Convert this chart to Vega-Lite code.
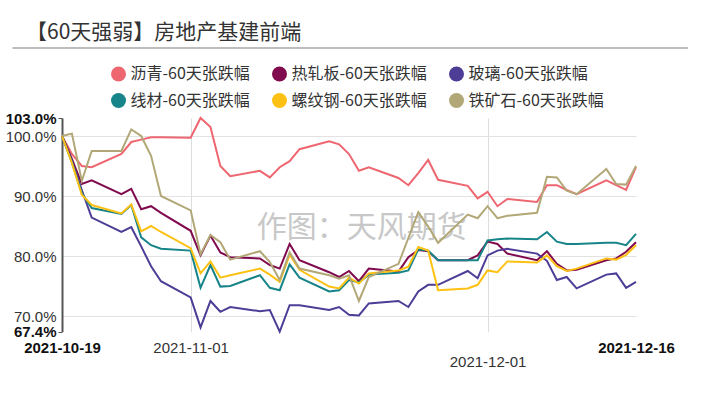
{
  "$schema": "https://vega.github.io/schema/vega-lite/v6.json",
  "autosize": {"type": "none"},
  "padding": {"left": 62, "top": 118, "right": 67, "bottom": 81.4},
  "width": 574,
  "height": 213.6,
  "background": "white",
  "title": {"text": "【60天强弱】房地产基建前端", "anchor": "start", "frame": "group", "font": "Noto Sans CJK SC", "fontSize": 21, "fontWeight": "normal", "color": "#333333", "dx": -36, "dy": 0},
  "config": {"view": {"stroke": null}, "font": "Liberation Sans"},
  "layer": [
    {
      "data": {"values": [{}]},
      "mark": {"type": "text", "text": "作图：天风期货", "font": "Noto Sans CJK SC", "fontSize": 30, "color": "#c8c8c8", "align": "center", "baseline": "middle"},
      "encoding": {
        "x": {"datum": {"year": 2021, "month": 11, "date": 18, "hours": 7, "utc": true}, "type": "temporal"},
        "y": {"datum": 84.7, "type": "quantitative"}
      }
    },
    {
      "data": {"values": [{}]},
      "mark": {"type": "rule", "color": "#bdbdbd", "strokeWidth": 2, "clip": false},
      "encoding": {
        "x": {"datum": {"year": 2021, "month": 10, "date": 14, "utc": true}, "type": "temporal"},
        "x2": {"datum": {"year": 2021, "month": 12, "date": 21, "hours": 6, "utc": true}},
        "y": {"datum": 114.67, "type": "quantitative"}
      }
    },
    {
      "data": {"values": [
        {"date":"2021-10-19","series":"沥青-60天张跌幅","value":100},
        {"date":"2021-10-20","series":"沥青-60天张跌幅","value":97.0},
        {"date":"2021-10-21","series":"沥青-60天张跌幅","value":95.0},
        {"date":"2021-10-22","series":"沥青-60天张跌幅","value":94.8},
        {"date":"2021-10-25","series":"沥青-60天张跌幅","value":97.0},
        {"date":"2021-10-26","series":"沥青-60天张跌幅","value":99.0},
        {"date":"2021-10-27","series":"沥青-60天张跌幅","value":99.4},
        {"date":"2021-10-28","series":"沥青-60天张跌幅","value":99.8},
        {"date":"2021-10-29","series":"沥青-60天张跌幅","value":99.8},
        {"date":"2021-11-01","series":"沥青-60天张跌幅","value":99.7},
        {"date":"2021-11-02","series":"沥青-60天张跌幅","value":103.0},
        {"date":"2021-11-03","series":"沥青-60天张跌幅","value":101.5},
        {"date":"2021-11-04","series":"沥青-60天张跌幅","value":95.0},
        {"date":"2021-11-05","series":"沥青-60天张跌幅","value":93.3},
        {"date":"2021-11-08","series":"沥青-60天张跌幅","value":94.2},
        {"date":"2021-11-09","series":"沥青-60天张跌幅","value":93.1},
        {"date":"2021-11-10","series":"沥青-60天张跌幅","value":94.8},
        {"date":"2021-11-11","series":"沥青-60天张跌幅","value":95.8},
        {"date":"2021-11-12","series":"沥青-60天张跌幅","value":97.8},
        {"date":"2021-11-15","series":"沥青-60天张跌幅","value":99.1},
        {"date":"2021-11-16","series":"沥青-60天张跌幅","value":98.6},
        {"date":"2021-11-17","series":"沥青-60天张跌幅","value":97.0},
        {"date":"2021-11-18","series":"沥青-60天张跌幅","value":94.2},
        {"date":"2021-11-19","series":"沥青-60天张跌幅","value":94.8},
        {"date":"2021-11-22","series":"沥青-60天张跌幅","value":93.0},
        {"date":"2021-11-23","series":"沥青-60天张跌幅","value":91.8},
        {"date":"2021-11-24","series":"沥青-60天张跌幅","value":93.8},
        {"date":"2021-11-25","series":"沥青-60天张跌幅","value":96.0},
        {"date":"2021-11-26","series":"沥青-60天张跌幅","value":92.7},
        {"date":"2021-11-29","series":"沥青-60天张跌幅","value":91.7},
        {"date":"2021-11-30","series":"沥青-60天张跌幅","value":89.6},
        {"date":"2021-12-01","series":"沥青-60天张跌幅","value":90.7},
        {"date":"2021-12-02","series":"沥青-60天张跌幅","value":88.3},
        {"date":"2021-12-03","series":"沥青-60天张跌幅","value":89.5},
        {"date":"2021-12-06","series":"沥青-60天张跌幅","value":89.0},
        {"date":"2021-12-07","series":"沥青-60天张跌幅","value":91.8},
        {"date":"2021-12-08","series":"沥青-60天张跌幅","value":91.8},
        {"date":"2021-12-09","series":"沥青-60天张跌幅","value":91.0},
        {"date":"2021-12-10","series":"沥青-60天张跌幅","value":90.3},
        {"date":"2021-12-13","series":"沥青-60天张跌幅","value":92.6},
        {"date":"2021-12-14","series":"沥青-60天张跌幅","value":91.8},
        {"date":"2021-12-15","series":"沥青-60天张跌幅","value":91.0},
        {"date":"2021-12-16","series":"沥青-60天张跌幅","value":94.8},
        {"date":"2021-10-19","series":"热轧板-60天张跌幅","value":100},
        {"date":"2021-10-20","series":"热轧板-60天张跌幅","value":96.2},
        {"date":"2021-10-21","series":"热轧板-60天张跌幅","value":92.0},
        {"date":"2021-10-22","series":"热轧板-60天张跌幅","value":92.6},
        {"date":"2021-10-25","series":"热轧板-60天张跌幅","value":90.3},
        {"date":"2021-10-26","series":"热轧板-60天张跌幅","value":91.2},
        {"date":"2021-10-27","series":"热轧板-60天张跌幅","value":87.8},
        {"date":"2021-10-28","series":"热轧板-60天张跌幅","value":88.3},
        {"date":"2021-10-29","series":"热轧板-60天张跌幅","value":87.2},
        {"date":"2021-11-01","series":"热轧板-60天张跌幅","value":84.2},
        {"date":"2021-11-02","series":"热轧板-60天张跌幅","value":80.1},
        {"date":"2021-11-03","series":"热轧板-60天张跌幅","value":83.4},
        {"date":"2021-11-04","series":"热轧板-60天张跌幅","value":80.6},
        {"date":"2021-11-05","series":"热轧板-60天张跌幅","value":79.8},
        {"date":"2021-11-08","series":"热轧板-60天张跌幅","value":79.6},
        {"date":"2021-11-09","series":"热轧板-60天张跌幅","value":78.5},
        {"date":"2021-11-10","series":"热轧板-60天张跌幅","value":77.9},
        {"date":"2021-11-11","series":"热轧板-60天张跌幅","value":82.0},
        {"date":"2021-11-12","series":"热轧板-60天张跌幅","value":79.3},
        {"date":"2021-11-15","series":"热轧板-60天张跌幅","value":77.3},
        {"date":"2021-11-16","series":"热轧板-60天张跌幅","value":76.5},
        {"date":"2021-11-17","series":"热轧板-60天张跌幅","value":77.5},
        {"date":"2021-11-18","series":"热轧板-60天张跌幅","value":75.8},
        {"date":"2021-11-19","series":"热轧板-60天张跌幅","value":77.9},
        {"date":"2021-11-22","series":"热轧板-60天张跌幅","value":77.4},
        {"date":"2021-11-23","series":"热轧板-60天张跌幅","value":79.8},
        {"date":"2021-11-24","series":"热轧板-60天张跌幅","value":81.0},
        {"date":"2021-11-25","series":"热轧板-60天张跌幅","value":80.8},
        {"date":"2021-11-26","series":"热轧板-60天张跌幅","value":79.3},
        {"date":"2021-11-29","series":"热轧板-60天张跌幅","value":79.3},
        {"date":"2021-11-30","series":"热轧板-60天张跌幅","value":80.1},
        {"date":"2021-12-01","series":"热轧板-60天张跌幅","value":82.4},
        {"date":"2021-12-02","series":"热轧板-60天张跌幅","value":82.0},
        {"date":"2021-12-03","series":"热轧板-60天张跌幅","value":80.4},
        {"date":"2021-12-06","series":"热轧板-60天张跌幅","value":79.3},
        {"date":"2021-12-07","series":"热轧板-60天张跌幅","value":80.8},
        {"date":"2021-12-08","series":"热轧板-60天张跌幅","value":78.7},
        {"date":"2021-12-09","series":"热轧板-60天张跌幅","value":77.6},
        {"date":"2021-12-10","series":"热轧板-60天张跌幅","value":77.7},
        {"date":"2021-12-13","series":"热轧板-60天张跌幅","value":79.3},
        {"date":"2021-12-14","series":"热轧板-60天张跌幅","value":79.6},
        {"date":"2021-12-15","series":"热轧板-60天张跌幅","value":80.7},
        {"date":"2021-12-16","series":"热轧板-60天张跌幅","value":82.3},
        {"date":"2021-10-19","series":"玻璃-60天张跌幅","value":100},
        {"date":"2021-10-20","series":"玻璃-60天张跌幅","value":95.8},
        {"date":"2021-10-21","series":"玻璃-60天张跌幅","value":91.0},
        {"date":"2021-10-22","series":"玻璃-60天张跌幅","value":86.4},
        {"date":"2021-10-25","series":"玻璃-60天张跌幅","value":84.0},
        {"date":"2021-10-26","series":"玻璃-60天张跌幅","value":84.8},
        {"date":"2021-10-27","series":"玻璃-60天张跌幅","value":81.6},
        {"date":"2021-10-28","series":"玻璃-60天张跌幅","value":78.3},
        {"date":"2021-10-29","series":"玻璃-60天张跌幅","value":75.8},
        {"date":"2021-11-01","series":"玻璃-60天张跌幅","value":73.1},
        {"date":"2021-11-02","series":"玻璃-60天张跌幅","value":68.1},
        {"date":"2021-11-03","series":"玻璃-60天张跌幅","value":72.5},
        {"date":"2021-11-04","series":"玻璃-60天张跌幅","value":70.7},
        {"date":"2021-11-05","series":"玻璃-60天张跌幅","value":71.5},
        {"date":"2021-11-08","series":"玻璃-60天张跌幅","value":70.8},
        {"date":"2021-11-09","series":"玻璃-60天张跌幅","value":71.0},
        {"date":"2021-11-10","series":"玻璃-60天张跌幅","value":67.4},
        {"date":"2021-11-11","series":"玻璃-60天张跌幅","value":71.8},
        {"date":"2021-11-12","series":"玻璃-60天张跌幅","value":71.8},
        {"date":"2021-11-15","series":"玻璃-60天张跌幅","value":71.0},
        {"date":"2021-11-16","series":"玻璃-60天张跌幅","value":71.5},
        {"date":"2021-11-17","series":"玻璃-60天张跌幅","value":70.2},
        {"date":"2021-11-18","series":"玻璃-60天张跌幅","value":70.1},
        {"date":"2021-11-19","series":"玻璃-60天张跌幅","value":72.1},
        {"date":"2021-11-22","series":"玻璃-60天张跌幅","value":72.5},
        {"date":"2021-11-23","series":"玻璃-60天张跌幅","value":71.5},
        {"date":"2021-11-24","series":"玻璃-60天张跌幅","value":74.1},
        {"date":"2021-11-25","series":"玻璃-60天张跌幅","value":75.2},
        {"date":"2021-11-26","series":"玻璃-60天张跌幅","value":75.2},
        {"date":"2021-11-29","series":"玻璃-60天张跌幅","value":77.5},
        {"date":"2021-11-30","series":"玻璃-60天张跌幅","value":76.3},
        {"date":"2021-12-01","series":"玻璃-60天张跌幅","value":80.1},
        {"date":"2021-12-02","series":"玻璃-60天张跌幅","value":80.9},
        {"date":"2021-12-03","series":"玻璃-60天张跌幅","value":81.2},
        {"date":"2021-12-06","series":"玻璃-60天张跌幅","value":80.4},
        {"date":"2021-12-07","series":"玻璃-60天张跌幅","value":79.2},
        {"date":"2021-12-08","series":"玻璃-60天张跌幅","value":76.0},
        {"date":"2021-12-09","series":"玻璃-60天张跌幅","value":76.5},
        {"date":"2021-12-10","series":"玻璃-60天张跌幅","value":74.6},
        {"date":"2021-12-13","series":"玻璃-60天张跌幅","value":76.9},
        {"date":"2021-12-14","series":"玻璃-60天张跌幅","value":77.1},
        {"date":"2021-12-15","series":"玻璃-60天张跌幅","value":74.7},
        {"date":"2021-12-16","series":"玻璃-60天张跌幅","value":75.7},
        {"date":"2021-10-19","series":"线材-60天张跌幅","value":100},
        {"date":"2021-10-20","series":"线材-60天张跌幅","value":95.6},
        {"date":"2021-10-21","series":"线材-60天张跌幅","value":90.5},
        {"date":"2021-10-22","series":"线材-60天张跌幅","value":88.0},
        {"date":"2021-10-25","series":"线材-60天张跌幅","value":87.0},
        {"date":"2021-10-26","series":"线材-60天张跌幅","value":88.5},
        {"date":"2021-10-27","series":"线材-60天张跌幅","value":83.1},
        {"date":"2021-10-28","series":"线材-60天张跌幅","value":81.8},
        {"date":"2021-10-29","series":"线材-60天张跌幅","value":81.2},
        {"date":"2021-11-01","series":"线材-60天张跌幅","value":80.9},
        {"date":"2021-11-02","series":"线材-60天张跌幅","value":74.7},
        {"date":"2021-11-03","series":"线材-60天张跌幅","value":78.5},
        {"date":"2021-11-04","series":"线材-60天张跌幅","value":74.9},
        {"date":"2021-11-05","series":"线材-60天张跌幅","value":75.0},
        {"date":"2021-11-08","series":"线材-60天张跌幅","value":76.8},
        {"date":"2021-11-09","series":"线材-60天张跌幅","value":74.7},
        {"date":"2021-11-10","series":"线材-60天张跌幅","value":74.3},
        {"date":"2021-11-11","series":"线材-60天张跌幅","value":78.6},
        {"date":"2021-11-12","series":"线材-60天张跌幅","value":76.4},
        {"date":"2021-11-15","series":"线材-60天张跌幅","value":74.1},
        {"date":"2021-11-16","series":"线材-60天张跌幅","value":74.3},
        {"date":"2021-11-17","series":"线材-60天张跌幅","value":76.0},
        {"date":"2021-11-18","series":"线材-60天张跌幅","value":75.6},
        {"date":"2021-11-19","series":"线材-60天张跌幅","value":76.9},
        {"date":"2021-11-22","series":"线材-60天张跌幅","value":77.2},
        {"date":"2021-11-23","series":"线材-60天张跌幅","value":77.6},
        {"date":"2021-11-24","series":"线材-60天张跌幅","value":81.1},
        {"date":"2021-11-25","series":"线材-60天张跌幅","value":80.9},
        {"date":"2021-11-26","series":"线材-60天张跌幅","value":79.3},
        {"date":"2021-11-29","series":"线材-60天张跌幅","value":79.3},
        {"date":"2021-11-30","series":"线材-60天张跌幅","value":79.3},
        {"date":"2021-12-01","series":"线材-60天张跌幅","value":82.6},
        {"date":"2021-12-02","series":"线材-60天张跌幅","value":82.8},
        {"date":"2021-12-03","series":"线材-60天张跌幅","value":82.9},
        {"date":"2021-12-06","series":"线材-60天张跌幅","value":82.8},
        {"date":"2021-12-07","series":"线材-60天张跌幅","value":84.0},
        {"date":"2021-12-08","series":"线材-60天张跌幅","value":82.4},
        {"date":"2021-12-09","series":"线材-60天张跌幅","value":82.0},
        {"date":"2021-12-10","series":"线材-60天张跌幅","value":82.0},
        {"date":"2021-12-13","series":"线材-60天张跌幅","value":82.2},
        {"date":"2021-12-14","series":"线材-60天张跌幅","value":82.2},
        {"date":"2021-12-15","series":"线材-60天张跌幅","value":81.8},
        {"date":"2021-12-16","series":"线材-60天张跌幅","value":83.7},
        {"date":"2021-10-19","series":"螺纹钢-60天张跌幅","value":100},
        {"date":"2021-10-20","series":"螺纹钢-60天张跌幅","value":95.5},
        {"date":"2021-10-21","series":"螺纹钢-60天张跌幅","value":90.2},
        {"date":"2021-10-22","series":"螺纹钢-60天张跌幅","value":88.5},
        {"date":"2021-10-25","series":"螺纹钢-60天张跌幅","value":87.1},
        {"date":"2021-10-26","series":"螺纹钢-60天张跌幅","value":88.6},
        {"date":"2021-10-27","series":"螺纹钢-60天张跌幅","value":84.1},
        {"date":"2021-10-28","series":"螺纹钢-60天张跌幅","value":85.0},
        {"date":"2021-10-29","series":"螺纹钢-60天张跌幅","value":84.0},
        {"date":"2021-11-01","series":"螺纹钢-60天张跌幅","value":81.3},
        {"date":"2021-11-02","series":"螺纹钢-60天张跌幅","value":77.1},
        {"date":"2021-11-03","series":"螺纹钢-60天张跌幅","value":79.1},
        {"date":"2021-11-04","series":"螺纹钢-60天张跌幅","value":76.4},
        {"date":"2021-11-05","series":"螺纹钢-60天张跌幅","value":76.8},
        {"date":"2021-11-08","series":"螺纹钢-60天张跌幅","value":77.9},
        {"date":"2021-11-09","series":"螺纹钢-60天张跌幅","value":76.9},
        {"date":"2021-11-10","series":"螺纹钢-60天张跌幅","value":75.7},
        {"date":"2021-11-11","series":"螺纹钢-60天张跌幅","value":80.2},
        {"date":"2021-11-12","series":"螺纹钢-60天张跌幅","value":77.7},
        {"date":"2021-11-15","series":"螺纹钢-60天张跌幅","value":74.9},
        {"date":"2021-11-16","series":"螺纹钢-60天张跌幅","value":74.6},
        {"date":"2021-11-17","series":"螺纹钢-60天张跌幅","value":76.4},
        {"date":"2021-11-18","series":"螺纹钢-60天张跌幅","value":75.4},
        {"date":"2021-11-19","series":"螺纹钢-60天张跌幅","value":77.1},
        {"date":"2021-11-22","series":"螺纹钢-60天张跌幅","value":77.6},
        {"date":"2021-11-23","series":"螺纹钢-60天张跌幅","value":78.2},
        {"date":"2021-11-24","series":"螺纹钢-60天张跌幅","value":81.5},
        {"date":"2021-11-25","series":"螺纹钢-60天张跌幅","value":80.9},
        {"date":"2021-11-26","series":"螺纹钢-60天张跌幅","value":74.3},
        {"date":"2021-11-29","series":"螺纹钢-60天张跌幅","value":74.6},
        {"date":"2021-11-30","series":"螺纹钢-60天张跌幅","value":75.2},
        {"date":"2021-12-01","series":"螺纹钢-60天张跌幅","value":77.6},
        {"date":"2021-12-02","series":"螺纹钢-60天张跌幅","value":77.3},
        {"date":"2021-12-03","series":"螺纹钢-60天张跌幅","value":79.1},
        {"date":"2021-12-06","series":"螺纹钢-60天张跌幅","value":78.9},
        {"date":"2021-12-07","series":"螺纹钢-60天张跌幅","value":80.1},
        {"date":"2021-12-08","series":"螺纹钢-60天张跌幅","value":78.3},
        {"date":"2021-12-09","series":"螺纹钢-60天张跌幅","value":77.5},
        {"date":"2021-12-10","series":"螺纹钢-60天张跌幅","value":77.9},
        {"date":"2021-12-13","series":"螺纹钢-60天张跌幅","value":79.6},
        {"date":"2021-12-14","series":"螺纹钢-60天张跌幅","value":79.4},
        {"date":"2021-12-15","series":"螺纹钢-60天张跌幅","value":80.2},
        {"date":"2021-12-16","series":"螺纹钢-60天张跌幅","value":81.8},
        {"date":"2021-10-19","series":"铁矿石-60天张跌幅","value":100},
        {"date":"2021-10-20","series":"铁矿石-60天张跌幅","value":100.4},
        {"date":"2021-10-21","series":"铁矿石-60天张跌幅","value":92.5},
        {"date":"2021-10-22","series":"铁矿石-60天张跌幅","value":97.5},
        {"date":"2021-10-25","series":"铁矿石-60天张跌幅","value":97.5},
        {"date":"2021-10-26","series":"铁矿石-60天张跌幅","value":101.1},
        {"date":"2021-10-27","series":"铁矿石-60天张跌幅","value":100.0},
        {"date":"2021-10-28","series":"铁矿石-60天张跌幅","value":96.7},
        {"date":"2021-10-29","series":"铁矿石-60天张跌幅","value":90.0},
        {"date":"2021-11-01","series":"铁矿石-60天张跌幅","value":87.6},
        {"date":"2021-11-02","series":"铁矿石-60天张跌幅","value":80.3},
        {"date":"2021-11-03","series":"铁矿石-60天张跌幅","value":83.5},
        {"date":"2021-11-04","series":"铁矿石-60天张跌幅","value":82.3},
        {"date":"2021-11-05","series":"铁矿石-60天张跌幅","value":79.4},
        {"date":"2021-11-08","series":"铁矿石-60天张跌幅","value":80.8},
        {"date":"2021-11-09","series":"铁矿石-60天张跌幅","value":79.0},
        {"date":"2021-11-10","series":"铁矿石-60天张跌幅","value":76.0},
        {"date":"2021-11-11","series":"铁矿石-60天张跌幅","value":80.6},
        {"date":"2021-11-12","series":"铁矿石-60天张跌幅","value":77.9},
        {"date":"2021-11-15","series":"铁矿石-60天张跌幅","value":76.8},
        {"date":"2021-11-16","series":"铁矿石-60天张跌幅","value":76.2},
        {"date":"2021-11-17","series":"铁矿石-60天张跌幅","value":76.8},
        {"date":"2021-11-18","series":"铁矿石-60天张跌幅","value":72.5},
        {"date":"2021-11-19","series":"铁矿石-60天张跌幅","value":76.5},
        {"date":"2021-11-22","series":"铁矿石-60天张跌幅","value":78.7},
        {"date":"2021-11-23","series":"铁矿石-60天张跌幅","value":83.0},
        {"date":"2021-11-24","series":"铁矿石-60天张跌幅","value":87.3},
        {"date":"2021-11-25","series":"铁矿石-60天张跌幅","value":84.9},
        {"date":"2021-11-26","series":"铁矿石-60天张跌幅","value":82.2},
        {"date":"2021-11-29","series":"铁矿石-60天张跌幅","value":86.9},
        {"date":"2021-11-30","series":"铁矿石-60天张跌幅","value":86.3},
        {"date":"2021-12-01","series":"铁矿石-60天张跌幅","value":88.3},
        {"date":"2021-12-02","series":"铁矿石-60天张跌幅","value":86.3},
        {"date":"2021-12-03","series":"铁矿石-60天张跌幅","value":86.7},
        {"date":"2021-12-06","series":"铁矿石-60天张跌幅","value":87.2},
        {"date":"2021-12-07","series":"铁矿石-60天张跌幅","value":93.2},
        {"date":"2021-12-08","series":"铁矿石-60天张跌幅","value":93.1},
        {"date":"2021-12-09","series":"铁矿石-60天张跌幅","value":90.9},
        {"date":"2021-12-10","series":"铁矿石-60天张跌幅","value":90.3},
        {"date":"2021-12-13","series":"铁矿石-60天张跌幅","value":94.5},
        {"date":"2021-12-14","series":"铁矿石-60天张跌幅","value":92.0},
        {"date":"2021-12-15","series":"铁矿石-60天张跌幅","value":91.9},
        {"date":"2021-12-16","series":"铁矿石-60天张跌幅","value":95.0}
      ]},
      "mark": {"type": "line", "strokeWidth": 2, "interpolate": "linear"},
      "encoding": {
        "x": {
          "field": "date", "type": "temporal",
          "scale": {"type": "utc", "domain": [{"year": 2021, "month": 10, "date": 19, "utc": true}, {"year": 2021, "month": 12, "date": 16, "utc": true}], "nice": false},
          "axis": {
            "title": null,
            "values": [{"year": 2021, "month": 10, "date": 19, "utc": true}, {"year": 2021, "month": 11, "date": 1, "utc": true}, {"year": 2021, "month": 12, "date": 1, "utc": true}, {"year": 2021, "month": 12, "date": 16, "utc": true}],
            "format": "%Y-%m-%d",
            "labelFont": "Liberation Sans",
            "labelFontSize": 15,
            "labelColor": {"condition": {"test": "utcdate(datum.value) == 1", "value": "#333333"}, "value": "#111111"},
            "labelFontWeight": {"condition": {"test": "utcdate(datum.value) == 1", "value": "normal"}, "value": "bold"},
            "labelPadding": {"condition": {"test": "utcmonth(datum.value) == 11 && utcdate(datum.value) == 1", "value": 23}, "value": 9},
            "labelBaseline": "top",
            "labelOverlap": false,
            "labelFlush": false,
            "labelBound": false,
            "ticks": false,
            "domain": false,
            "grid": true,
            "gridColor": "#dddddd",
            "gridWidth": 1,
            "gridOpacity": {"condition": {"test": "utcdate(datum.value) == 1", "value": 1}, "value": 0}
          }
        },
        "y": {
          "field": "value", "type": "quantitative",
          "scale": {"domain": [67.4, 103], "nice": false, "zero": false},
          "axis": {
            "title": null,
            "values": [67.4, 70, 80, 90, 100, 103],
            "labelExpr": "format(datum.value, '.1f') + '%'",
            "labelFont": "Liberation Sans",
            "labelFontSize": 15,
            "labelColor": {"condition": {"test": "datum.value < 68 || datum.value > 102", "value": "#111111"}, "value": "#333333"},
            "labelFontWeight": {"condition": {"test": "datum.value < 68 || datum.value > 102", "value": "bold"}, "value": "normal"},
            "labelPadding": 2,
            "labelOverlap": false,
            "labelFlush": false,
            "ticks": true,
            "tickSize": 4,
            "tickColor": "#555555",
            "tickOpacity": {"condition": {"test": "datum.value < 68 || datum.value > 102", "value": 1}, "value": 0},
            "domain": true,
            "domainColor": "#555555",
            "domainWidth": 2,
            "grid": true,
            "gridColor": "#e2e2e2",
            "gridWidth": 1,
            "gridOpacity": {"condition": {"test": "datum.value < 68 || datum.value > 102", "value": 0}, "value": 1}
          }
        },
        "color": {
          "field": "series", "type": "nominal",
          "scale": {
            "domain": ["沥青-60天张跌幅", "热轧板-60天张跌幅", "玻璃-60天张跌幅", "线材-60天张跌幅", "螺纹钢-60天张跌幅", "铁矿石-60天张跌幅"],
            "range": ["#ee6670", "#800a4e", "#4e3d96", "#178489", "#fdc113", "#b2a877"]
          },
          "legend": {
            "title": null,
            "orient": "none",
            "legendX": 48.5,
            "legendY": -52,
            "direction": "horizontal",
            "columns": 3,
            "columnPadding": 21,
            "rowPadding": 10.5,
            "symbolType": "circle",
            "symbolSize": 225,
            "symbolStrokeWidth": 0,
            "labelFont": "Noto Sans CJK SC",
            "labelFontSize": 16,
            "labelColor": "#333333",
            "labelOffset": 4,
            "labelLimit": 0,
            "encode": {"symbols": {"update": {"fill": {"scale": "color", "field": "value"}, "strokeWidth": {"value": 0}, "opacity": {"value": 1}}}}
          }
        }
      }
    }
  ]
}
